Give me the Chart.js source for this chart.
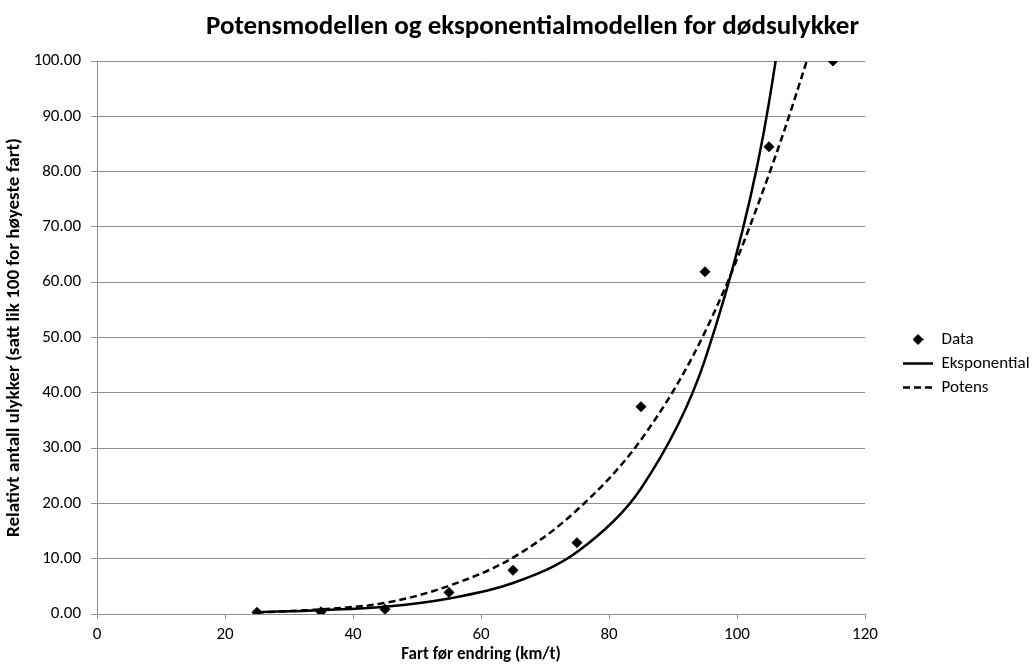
<!DOCTYPE html>
<html lang="no">
<head>
<meta charset="utf-8">
<title>Potensmodellen og eksponentialmodellen for dødsulykker</title>
<script src="https://cdn.jsdelivr.net/npm/chart.js@4/dist/chart.umd.min.js"></script>
<style>
  html, body { margin: 0; padding: 0; background: #fff; }
  #ramme { width: 1035px; height: 671px; }
</style>
</head>
<body>
<div id="ramme"><canvas id="graf"></canvas></div>
<script>
'use strict';

/* === DATA === */
const FARTER = [25, 35, 45, 55, 65, 75, 85, 95, 105, 115];
const MAALTE = [0.3, 0.4, 0.85, 3.9, 7.9, 12.9, 37.5, 61.9, 84.5, 100];
const EKSPONENTIAL = [0.35, 0.7, 1.3, 2.8, 5.6, 11.2, 22.7, 46, 92.5, 186];
const POTENS = [0.25, 0.85, 2.0, 5.1, 10.2, 18.8, 31.5, 51, 79.5, 115];

const X_TICKS = [0, 20, 40, 60, 80, 100, 120];
const Y_TICKS = [0, 10, 20, 30, 40, 50, 60, 70, 80, 90, 100];

const FONT = 'Carlito, Lato, "Open Sans", sans-serif';
const GRAA = '#8e8e8e';

function tilPunkter(ys) {
  return FARTER.map((x, i) => ({ x, y: ys[i] }));
}

// liten ruter til forklaringen (blir ikke strukket som rectRot)
function lagRuter() {
  const c = document.createElement('canvas');
  c.width = 11;
  c.height = 11;
  const g = c.getContext('2d');
  g.fillStyle = '#000';
  g.beginPath();
  g.moveTo(5.5, 0);
  g.lineTo(11, 5.5);
  g.lineTo(5.5, 11);
  g.lineTo(0, 5.5);
  g.closePath();
  g.fill();
  return c;
}

const RUTER = lagRuter();

/* flytter tittel og forklaring litt, som i originalen */
const justerPlassering = {
  id: 'justerPlassering',
  afterLayout(chart) {
    if (chart.titleBlock) chart.titleBlock.left = 30;
    if (chart.legend) {
      chart.legend.top += 28;
      chart.legend.bottom += 28;
      const flytt = 896 - chart.legend.left;
      chart.legend.left += flytt;
      chart.legend.right += flytt;
    }
  }
};

new Chart(document.getElementById('graf'), {
  type: 'scatter',
  data: {
    datasets: [
      {
        label: 'Data',
        data: tilPunkter(MAALTE),
        showLine: false,
        pointStyle: 'rectRot',
        pointRadius: 5,
        backgroundColor: '#000',
        borderColor: '#000',
        borderWidth: 1
      },
      {
        label: 'Eksponential',
        data: tilPunkter(EKSPONENTIAL),
        showLine: true,
        pointRadius: 0,
        pointStyle: 'line',
        borderColor: '#000',
        backgroundColor: '#000',
        borderWidth: 2.5,
        tension: 0.35,
        clip: 0
      },
      {
        label: 'Potens',
        data: tilPunkter(POTENS),
        showLine: true,
        pointRadius: 0,
        pointStyle: 'line',
        borderColor: '#000',
        backgroundColor: '#000',
        borderWidth: 2.5,
        borderDash: [7, 4],
        tension: 0.35,
        clip: 0
      }
    ]
  },
  options: {
    responsive: true,
    maintainAspectRatio: false,
    animation: false,
    layout: { padding: 0 },
    plugins: {
      title: {
        display: true,
        text: 'Potensmodellen og eksponentialmodellen for dødsulykker',
        color: '#000',
        font: { family: FONT, size: 27, weight: 'bold' },
        padding: { top: 11, bottom: 17.6 }
      },
      legend: {
        position: 'right',
        labels: {
          usePointStyle: true,
          pointStyleWidth: 30,
          boxHeight: 7,
          padding: 7,
          color: '#000',
          font: { family: FONT, size: 17 },
          generateLabels(chart) {
            const items = Chart.defaults.plugins.legend.labels.generateLabels(chart);
            items.forEach(item => {
              const ds = chart.data.datasets[item.datasetIndex];
              if (ds.label === 'Data') {
                item.pointStyle = RUTER;
              } else {
                item.lineDash = ds.borderDash || [];
                item.lineWidth = 2.5;
                item.strokeStyle = '#000';
              }
            });
            return items;
          }
        }
      },
      tooltip: { enabled: false }
    },
    scales: {
      x: {
        type: 'linear',
        min: 0,
        max: 120,
        afterBuildTicks: s => { s.ticks = X_TICKS.map(v => ({ value: v })); },
        afterFit: s => { s.height = 57; },
        grid: { drawOnChartArea: false, drawTicks: true, tickLength: 5, color: GRAA },
        border: { color: GRAA, width: 1 },
        ticks: { color: '#000', padding: 6, font: { family: FONT, size: 17 } },
        title: {
          display: true,
          text: 'Fart før endring (km/t)',
          color: '#000',
          font: { family: FONT, size: 17, weight: 'bold' },
          padding: { top: 2, bottom: 6 }
        }
      },
      y: {
        type: 'linear',
        min: 0,
        max: 100,
        afterBuildTicks: s => { s.ticks = Y_TICKS.map(v => ({ value: v })); },
        afterFit: s => { s.width = 97; },
        grid: { color: GRAA, tickLength: 6, lineWidth: 1 },
        border: { color: GRAA, width: 1 },
        ticks: {
          color: '#000',
          padding: 10,
          font: { family: FONT, size: 17 },
          callback: v => v.toFixed(2)
        },
        title: {
          display: true,
          text: 'Relativt antall ulykker (satt lik 100 for høyeste fart)',
          color: '#000',
          font: { family: FONT, size: 19, weight: 'bold' },
          padding: { top: 3, bottom: 4 }
        }
      },
      luft: {
        type: 'linear',
        position: 'right',
        display: true,
        afterFit: s => { s.width = 1035 - 865 - s.chart.legend.width; },
        grid: { display: false, drawTicks: false },
        border: { display: false },
        ticks: { display: false }
      }
    }
  },
  plugins: [justerPlassering]
});
</script>
</body>
</html>
